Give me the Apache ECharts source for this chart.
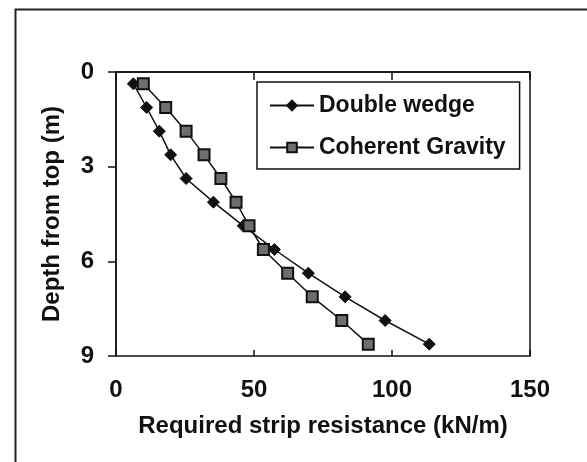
<!DOCTYPE html>
<html>
<head>
<meta charset="utf-8">
<script src="https://cdn.jsdelivr.net/npm/echarts@6.0.0/dist/echarts.min.js"></script>
<style>
  html, body { margin: 0; padding: 0; background: #fff; }
  #chart { width: 587px; height: 462px; }
</style>
</head>
<body>
<div id="chart"></div>
<script>
// depth of each point (m)
const depths = [0.375, 1.125, 1.875, 2.625, 3.375, 4.125, 4.875, 5.625, 6.375, 7.125, 7.875, 8.625];
// required strip resistance (kN/m)
const doubleWedge = [6.3, 11.1, 15.7, 19.8, 25.4, 35.3, 46.1, 57.4, 69.7, 83.0, 97.5, 113.5];
const coherentGravity = [9.9, 18.0, 25.4, 31.9, 38.0, 43.5, 48.2, 53.4, 62.2, 71.1, 81.8, 91.4];
const xTicks = [0, 50, 100, 150];
const yTicks = [0, 3, 6, 9];

const font = 'Liberation Sans, Arial, sans-serif';
const pairs = (xs) => xs.map((x, i) => [x, depths[i]]);

const chart = echarts.init(document.getElementById('chart'));
chart.setOption({
  animation: false,
  backgroundColor: '#fff',
  textStyle: { fontFamily: font, color: '#111' },
  graphic: [{
    type: 'rect', left: 13, top: 7, silent: true,
    shape: { width: 620, height: 500 },
    style: { fill: 'none', stroke: '#222', lineWidth: 2 }
  }],
  grid: {
    left: 116, top: 72, width: 414, height: 284,
    show: true, borderColor: '#111', borderWidth: 1.5, backgroundColor: 'transparent'
  },
  legend: {
    orient: 'vertical', left: 257, top: 82,
    padding: [12, 14, 10, 12], itemGap: 19,
    itemWidth: 44, itemHeight: 12,
    borderColor: '#111', borderWidth: 1.5, borderRadius: 0,
    textStyle: { fontFamily: font, fontWeight: 'bold', fontSize: 23, color: '#111' },
    data: ['Double wedge', 'Coherent Gravity']
  },
  xAxis: [{
    type: 'value', min: 0, max: 150, interval: 50,
    name: 'Required strip resistance (kN/m)', nameLocation: 'middle', nameGap: 58,
    nameTextStyle: { fontFamily: font, fontWeight: 'bold', fontSize: 24, color: '#111' },
    axisLine: { show: true, lineStyle: { color: '#111', width: 1.5 } },
    axisTick: { show: true, length: 8, lineStyle: { color: '#111', width: 1.5 } },
    axisLabel: {
      margin: 22, fontFamily: font, fontWeight: 'bold', fontSize: 24, color: '#111',
      formatter: (v) => xTicks.includes(v) ? String(v) : ''
    },
    splitLine: { show: false }
  }, {
    type: 'value', min: 0, max: 150, interval: 50, position: 'bottom',
    axisLine: { show: false },
    axisTick: { show: true, inside: true, length: 6, lineStyle: { color: '#111', width: 1.5 } },
    axisLabel: { show: false },
    splitLine: { show: false }
  }],
  yAxis: {
    type: 'value', min: 0, max: 9, interval: 3, inverse: true,
    name: 'Depth from top (m)', nameLocation: 'middle', nameGap: 52, nameRotate: 90,
    nameTextStyle: { fontFamily: font, fontWeight: 'bold', fontSize: 24, color: '#111' },
    axisLine: { show: true, lineStyle: { color: '#111', width: 1.5 } },
    axisTick: { show: true, length: 8, lineStyle: { color: '#111', width: 1.5 } },
    axisLabel: {
      margin: 22, fontFamily: font, fontWeight: 'bold', fontSize: 24, color: '#111',
      formatter: (v) => yTicks.includes(v) ? String(v) : ''
    },
    splitLine: { show: false }
  },
  series: [{
    name: 'Double wedge', type: 'line', data: pairs(doubleWedge),
    symbol: 'diamond', symbolSize: 12,
    lineStyle: { color: '#111', width: 1.5 },
    itemStyle: { color: '#111', borderColor: '#111', borderWidth: 1 }
  }, {
    name: 'Coherent Gravity', type: 'line', data: pairs(coherentGravity),
    symbol: 'rect', symbolSize: 11,
    lineStyle: { color: '#111', width: 1.5 },
    itemStyle: { color: '#6e6e6e', borderColor: '#111', borderWidth: 2 }
  }]
});
</script>
</body>
</html>
